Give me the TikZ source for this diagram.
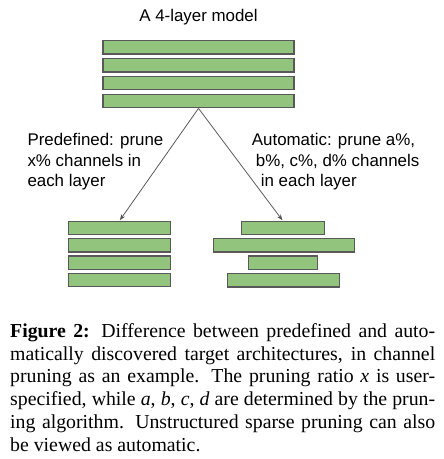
\documentclass[tikz,border=0pt]{standalone}
\usepackage{fontspec}
\setmainfont{Liberation Serif}
\newfontfamily\arialf{Liberation Sans}
\usetikzlibrary{arrows.meta}
\definecolor{barfill}{HTML}{93C47D}
\definecolor{barline}{HTML}{595959}
\definecolor{arrgray}{HTML}{595959}
\tikzset{
  bar/.style={draw=barline, fill=barfill, line width=1.1pt, inner sep=0pt, minimum height=13.4pt},
  lbl/.style={font=\arialf\fontsize{16.9pt}{20.3pt}\selectfont, inner sep=0pt, align=left},
  arr/.style={draw=arrgray, line width=0.8pt, -{Stealth[length=6pt,width=4.5pt]}, shorten >=0.6pt},
}
\begin{document}
\begin{tikzpicture}[x=1pt,y=-1pt]
\useasboundingbox (0,0) rectangle (444,459);
% title
\node[lbl, anchor=base] (title) at (198.5,21.7) {A 4-layer model};
% top model
\node[bar, minimum width=191pt] (t1) at (198.5,47.3) {};
\node[bar, minimum width=191pt] (t2) at (198.5,65.3) {};
\node[bar, minimum width=191pt] (t3) at (198.5,83.2) {};
\node[bar, minimum width=191pt] (t4) at (198.5,101.1) {};
% left (predefined)
\node[bar, minimum width=102.4pt] (l1) at (119.5,228) {};
\node[bar, minimum width=102.4pt] (l2) at (119.5,245.3) {};
\node[bar, minimum width=102.4pt] (l3) at (119.5,262.7) {};
\node[bar, minimum width=102.4pt] (l4) at (119.5,280) {};
% right (automatic)
\node[bar, minimum width=83pt] (r1) at (282.8,228) {};
\node[bar, minimum width=141pt] (r2) at (283.8,245.3) {};
\node[bar, minimum width=69pt] (r3) at (282.8,262.7) {};
\node[bar, minimum width=112.4pt] (r4) at (283.5,280.3) {};
% arrows
\draw[arr] (t4.south) -- (l1.north);
\draw[arr] (t4.south) -- (r1.north);
% labels (base = last line)
\node[lbl, anchor=base west] (pl) at (27.3,186.3) {Predefined: prune\\x\% channels in\\each layer};
\node[lbl, anchor=base west] (al) at (251.7,186.3) {Automatic: prune a\%,\\\hspace*{4pt}b\%, c\%, d\% channels\\\hspace*{9pt}in each layer};
% caption
\node[anchor=base west, inner sep=0pt, text width=425pt, align=justify,
      font=\fontsize{19.8pt}{22.7pt}\selectfont] (cap) at (10,337.5)
 {\textbf{Figure 2:} Difference between predefined and auto-\linebreak matically discovered target architectures, in channel\linebreak pruning as an example. The pruning ratio \textit{x} is user-\linebreak specified, while \textit{a}, \textit{b}, \textit{c}, \textit{d} are determined by the prun-\linebreak ing algorithm. Unstructured sparse pruning can also\linebreak be viewed as automatic.};
\end{tikzpicture}
\end{document}
